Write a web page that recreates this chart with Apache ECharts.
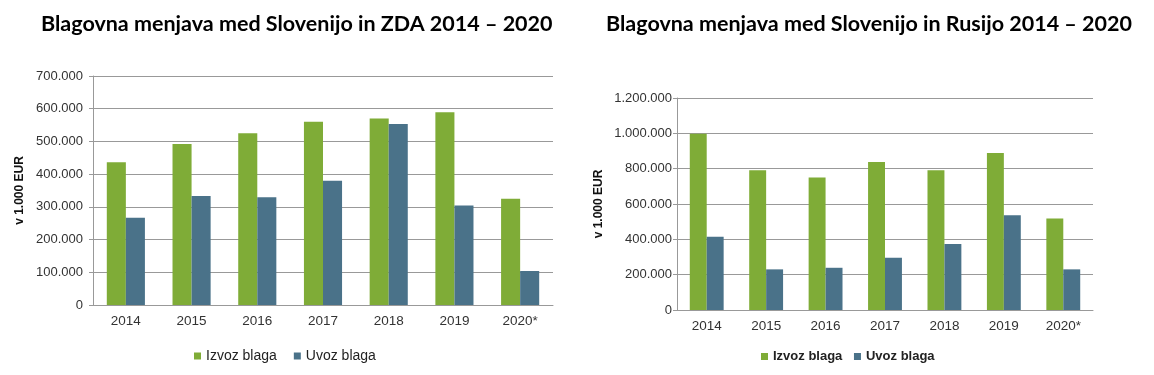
<html>
<head>
<meta charset="utf-8">
<title>Blagovna menjava</title>
<script src="https://cdn.jsdelivr.net/npm/echarts@6/dist/echarts.min.js"></script>
<style>
  html, body { margin: 0; padding: 0; background: #fff; }
  #main { width: 1154px; height: 375px; }
</style>
</head>
<body>
<div id="main"></div>
<script>
// podatki
var years = ['2014', '2015', '2016', '2017', '2018', '2019', '2020*'];
var zdaIzvoz = [436000, 492000, 525000, 560000, 570000, 589000, 325000];
var zdaUvoz = [267000, 333000, 329000, 380000, 553000, 304000, 104000];
var rusIzvoz = [998000, 791000, 750000, 838000, 791000, 889000, 518000];
var rusUvoz = [414000, 230000, 239000, 296000, 373000, 537000, 230000];

var green = '#7fac37';
var blue = '#4a7289';
var font = 'Liberation Sans';

function fmt(v) {
  return String(v).replace(/\B(?=(\d{3})+(?!\d))/g, '.');
}

function yAx(idx, max, step, margin, gap) {
  return {
    type: 'value', gridIndex: idx, min: 0, max: max, interval: step,
    name: 'v 1.000 EUR', nameLocation: 'middle', nameRotate: 90,
    nameGap: gap,
    nameTextStyle: { fontFamily: font, fontSize: 12, fontWeight: 'bold', color: '#111' },
    axisLine: { show: true, lineStyle: { color: '#999', width: 1 } },
    axisTick: { show: true, length: 4, lineStyle: { color: '#999' } },
    axisLabel: { formatter: fmt, fontFamily: font, fontSize: 13, color: '#333', margin: margin },
    splitLine: { lineStyle: { color: '#999', width: 1 } }
  };
}

function xAx(idx) {
  return {
    type: 'category', gridIndex: idx, data: years,
    axisLine: { lineStyle: { color: '#999' } },
    axisTick: { show: false },
    axisLabel: { fontFamily: font, fontSize: 13.5, color: '#333', margin: 9 }
  };
}

function bar(name, idx, data, color, gap) {
  return {
    name: name, type: 'bar', xAxisIndex: idx, yAxisIndex: idx, data: data,
    barGap: '0%', barCategoryGap: gap,
    itemStyle: { color: color }
  };
}

var chart = echarts.init(document.getElementById('main'));
var titleStyle = { fontFamily: 'Lato', fontWeight: 'bold', fontSize: 21.5, color: '#000' };

chart.setOption({
  animation: false,
  title: [
    { text: 'Blagovna menjava med Slovenijo in ZDA 2014 – 2020', left: 36, top: 8, textStyle: titleStyle },
    { text: 'Blagovna menjava med Slovenijo in Rusijo 2014 – 2020', left: 601, top: 8, textStyle: titleStyle }
  ],
  legend: [
    { data: ['Izvoz blaga', 'Uvoz blaga'], left: 189, top: 344, itemWidth: 7, itemHeight: 7, itemGap: 17,
      icon: 'rect', textStyle: { fontFamily: font, fontSize: 14, color: '#222' } },
    { data: ['Izvoz blaga ', 'Uvoz blaga '], left: 756, top: 345, itemWidth: 7, itemHeight: 7, itemGap: 8,
      icon: 'rect', textStyle: { fontFamily: font, fontSize: 13, fontWeight: 'bold', color: '#222' } }
  ],
  grid: [
    { left: 93, top: 76, width: 460, height: 229 },
    { left: 677, top: 98, width: 416, height: 212 }
  ],
  xAxis: [xAx(0), xAx(1)],
  yAxis: [yAx(0, 700000, 100000, 10, 67), yAx(1, 1200000, 200000, 5, 72)],
  series: [
    bar('Izvoz blaga', 0, zdaIzvoz, green, '42%'),
    bar('Uvoz blaga', 0, zdaUvoz, blue, '42%'),
    bar('Izvoz blaga ', 1, rusIzvoz, green, '43%'),
    bar('Uvoz blaga ', 1, rusUvoz, blue, '43%')
  ]
});
</script>
</body>
</html>
